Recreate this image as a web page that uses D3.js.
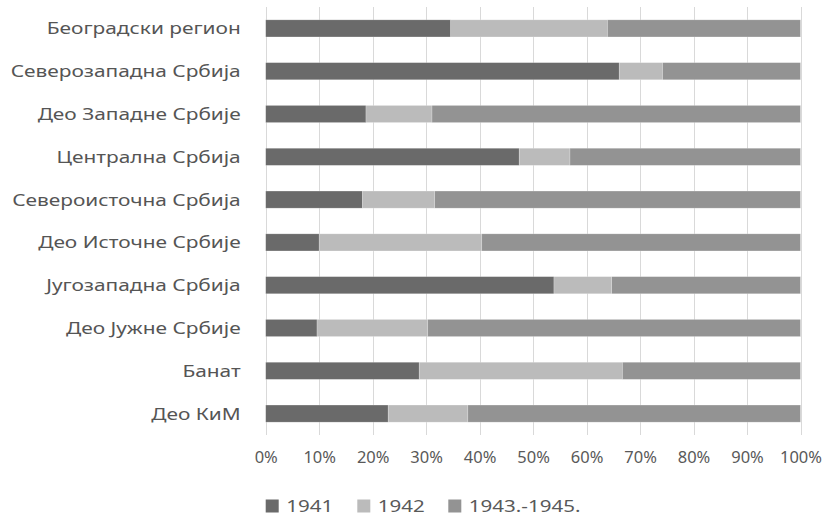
<!DOCTYPE html>
<html><head><meta charset="utf-8">
<script src="https://cdn.jsdelivr.net/npm/d3@7"></script>
<style>body{margin:0;background:#fff}svg{display:block}</style>
</head><body>
<svg id="c" width="825" height="517"></svg>
<script>
const categories = ["Београдски регион","Северозападна Србија","Део Западне Србије","Централна Србија","Североисточна Србија","Део Источне Србије","Југозападна Србија","Део Јужне Србије","Банат","Део КиМ"];
const series = ["1941","1942","1943.-1945."];
const v1941 = [34.6,66.1,18.75,47.4,18.1,10.0,53.9,9.6,28.7,22.9];
const v1942 = [29.3,8.1,12.35,9.5,13.5,30.4,10.8,20.7,38.0,14.9];
const v1943 = [36.1,25.8,68.9,43.1,68.4,59.6,35.3,69.7,33.3,62.2];
const tickValues = [0,0.1,0.2,0.3,0.4,0.5,0.6,0.7,0.8,0.9,1];
const colors = ["#6a6a6a","#bbbbbb","#939393"];

const font = "'Noto Sans', sans-serif";
const txt = "#595959";
const svg = d3.select("#c");
const x = d3.scaleLinear().domain([0,1]).range([265.7,800.5]);
const y = d3.scaleBand().domain(categories).range([7,435]).paddingInner(0.6).paddingOuter(0.3);

const table = categories.map((c,i)=>({cat:c,"1941":v1941[i],"1942":v1942[i],"1943.-1945.":v1943[i]}));
const stacked = d3.stack().keys(series).offset(d3.stackOffsetExpand)(table);

// horizontal widening of glyphs to mimic the wide GDI font rendering
function widen(sel, k){
  sel.each(function(){
    const t = d3.select(this);
    const x0 = +t.attr("x") || 0;
    t.attr("x", x0 / k).attr("transform", `scale(${k},1)`);
  });
}

// gridlines
svg.append("g").selectAll("line").data(tickValues).join("line")
  .attr("x1",d=>Math.round(x(d))+0.5).attr("x2",d=>Math.round(x(d))+0.5)
  .attr("y1",7).attr("y2",435).attr("stroke","#d9d9d9").attr("stroke-width",1);

// bars
svg.append("g").selectAll("g").data(stacked).join("g")
  .attr("fill",(d,i)=>colors[i])
  .selectAll("rect").data(d=>d).join("rect")
  .attr("x",d=>x(d[0])).attr("width",d=>x(d[1])-x(d[0]))
  .attr("y",d=>y(d.data.cat)).attr("height",y.bandwidth())
  .attr("stroke","#ffffff").attr("stroke-opacity",0.35).attr("stroke-width",0.6);

// category labels
const ya = svg.append("g").attr("transform","translate(265.7,0)")
  .call(d3.axisLeft(y).tickSize(0).tickPadding(25));
ya.select(".domain").remove();
ya.selectAll("text").attr("font-family",font).attr("font-size",16.5).attr("fill","#555555").attr("dy","0.36em");
widen(ya.selectAll("text"), 1.265);

// x axis labels
const xa = svg.append("g").attr("transform","translate(0,452)")
  .call(d3.axisBottom(x).tickValues(tickValues).tickFormat(d3.format(".0%")).tickSize(0).tickPadding(0));
xa.select(".domain").remove();
xa.selectAll("text").attr("font-family",font).attr("font-size",16).attr("fill",txt).attr("dy","0.71em");
widen(xa.selectAll("text"), 1.03);

// legend
const legX = [265.7,357.3,448.3];
const lg = svg.append("g").selectAll("g").data(series).join("g")
  .attr("transform",(d,i)=>`translate(${legX[i]},499.5)`);
lg.append("rect").attr("width",13).attr("height",13).attr("fill",(d,i)=>colors[i]);
const lt = lg.append("text").attr("x",20.5).attr("y",6.5).attr("dy","0.36em")
  .attr("font-family",font).attr("font-size",17).attr("fill",txt).text(d=>d);
widen(lt, 1.21);
</script>
</body></html>
